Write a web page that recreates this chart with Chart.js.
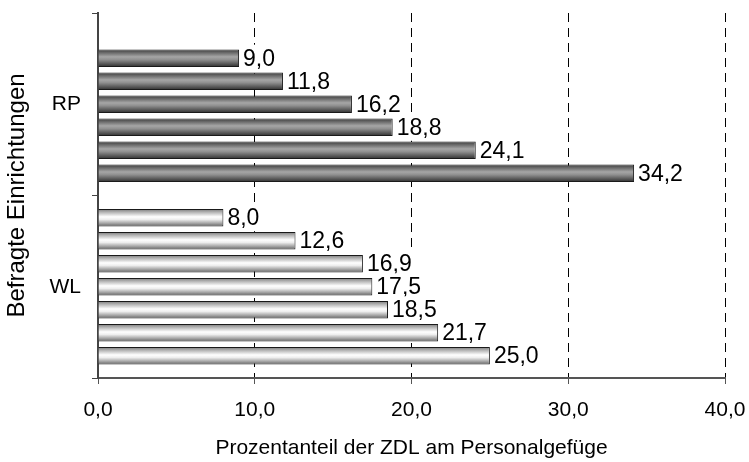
<!DOCTYPE html>
<html>
<head>
<meta charset="utf-8">
<script src="https://cdn.jsdelivr.net/npm/chart.js@4/dist/chart.umd.min.js"></script>
<style>
  html, body { margin: 0; padding: 0; background: #fff; }
  #wrap { width: 749px; height: 462px; }
</style>
</head>
<body>
<div id="wrap"><canvas id="c" width="749" height="462"></canvas></div>
<script>
// Institutions surveyed
const categories = ['RP', 'WL'];
// Share of ZDL in staff, one bar per institution (top to bottom); RP has one empty slot
const rpValues = [null, 9.0, 11.8, 16.2, 18.8, 24.1, 34.2];
const wlValues = [8.0, 12.6, 16.9, 17.5, 18.5, 21.7, 25.0];
// Value axis
const xMin = 0, xMax = 40, xStep = 10;

const FONT = "'Liberation Sans', Arial, sans-serif";
const fmt = v => v.toFixed(1).replace('.', ',');

const datasets = rpValues.map((rp, i) => ({
  label: 'Einrichtung ' + (i + 1),
  data: [rp, wlValues[i]],
  borderColor: '#1a1a1a',
  borderWidth: 1,
  backgroundColor: '#888'
}));

// Cylinder-like shading for each bar, dark for RP and light for WL
const shading = {
  id: 'shading',
  beforeDatasetsDraw(chart) {
    const ctx = chart.ctx;
    chart.data.datasets.forEach((ds, di) => {
      const meta = chart.getDatasetMeta(di);
      meta.data.forEach((el, idx) => {
        if (ds.data[idx] == null) return;
        const top = el.y - el.height / 2, bot = el.y + el.height / 2;
        const g = ctx.createLinearGradient(0, top, 0, bot);
        if (idx === 0) {
          g.addColorStop(0, '#3c3c3c');
          g.addColorStop(0.15, '#626262');
          g.addColorStop(0.42, '#a6a6a6');
          g.addColorStop(0.58, '#909090');
          g.addColorStop(0.82, '#585858');
          g.addColorStop(1, '#2e2e2e');
        } else {
          g.addColorStop(0, '#7a7a7a');
          g.addColorStop(0.2, '#b8b8b8');
          g.addColorStop(0.45, '#ffffff');
          g.addColorStop(0.6, '#eeeeee');
          g.addColorStop(0.85, '#9a9a9a');
          g.addColorStop(1, '#5e5e5e');
        }
        el.options = Object.assign({}, el.options, { backgroundColor: g });
      });
    });
  }
};

// Value labels at the bar ends, on a white box
const valueLabels = {
  id: 'valueLabels',
  afterDatasetsDraw(chart) {
    const ctx = chart.ctx;
    ctx.save();
    ctx.font = '23px ' + FONT;
    ctx.textBaseline = 'middle';
    ctx.textAlign = 'left';
    for (let idx = 0; idx < categories.length; idx++) {
      chart.data.datasets.forEach((ds, di) => {
        const v = ds.data[idx];
        if (v == null) return;
        const el = chart.getDatasetMeta(di).data[idx];
        const text = fmt(v);
        const x = el.x + 4;
        const w = ctx.measureText(text).width;
        ctx.fillStyle = '#fff';
        ctx.fillRect(x - 1, el.y - 13.5, w + 3, 27);
        ctx.fillStyle = '#000';
        ctx.fillText(text, x, el.y + 1);
      });
    }
    ctx.restore();
  }
};

new Chart(document.getElementById('c'), {
  type: 'bar',
  data: { labels: categories, datasets },
  plugins: [shading, valueLabels],
  options: {
    indexAxis: 'y',
    responsive: false,
    animation: false,
    categoryPercentage: 0.883,
    barPercentage: 0.76,
    layout: { padding: { top: 13, right: 24, left: 0, bottom: 0 } },
    plugins: { legend: { display: false }, tooltip: { enabled: false } },
    scales: {
      x: {
        min: xMin, max: xMax,
        ticks: {
          stepSize: xStep,
          color: '#000',
          padding: 14,
          maxRotation: 0,
          font: { family: FONT, size: 21 },
          callback: v => fmt(v)
        },
        grid: {
          color: c => (c.tick && c.tick.value === 0) ? 'rgba(0,0,0,0)' : '#000',
          lineWidth: 1,
          tickColor: '#555',
          tickLength: 6,
          tickWidth: 1
        },
        border: { display: true, color: '#555', width: 2, dash: [9, 6] },
        title: {
          display: true,
          text: 'Prozentanteil der ZDL am Personalgefüge',
          color: '#000',
          font: { family: FONT, size: 21 },
          padding: { top: 0, bottom: 1 }
        },
        afterFit: s => { s.height = 84; s.paddingLeft = 0; s.paddingRight = 0; }
      },
      y: {
        ticks: { color: '#000', padding: 11, font: { family: FONT, size: 21 } },
        grid: {
          drawOnChartArea: false,
          tickColor: '#444',
          tickLength: 6,
          tickWidth: 1
        },
        border: { display: true, color: '#444', width: 2 },
        title: {
          display: true,
          text: 'Befragte Einrichtungen',
          color: '#000',
          font: { family: FONT, size: 24 },
          padding: { top: 3, bottom: 0 }
        },
        afterFit: s => { s.width = 98; s.paddingTop = 0; s.paddingBottom = 0; }
      }
    }
  }
});
</script>
</body>
</html>
